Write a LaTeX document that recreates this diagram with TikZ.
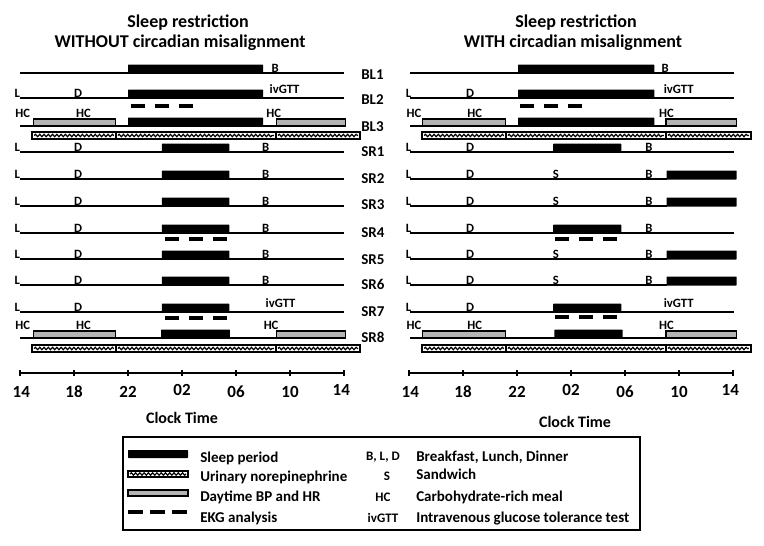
\documentclass[tikz,border=0pt]{standalone}
\usepackage{fontspec}
\setmainfont{Carlito}
\usetikzlibrary{decorations.pathmorphing}
\definecolor{barg}{RGB}{180,180,180}
\tikzset{
 tl/.style={line width=1pt},
 sleepf/.style={fill=black, rounded corners=0.5pt},
 grayf/.style={draw=black, fill=barg, line width=0.8pt},
 ekgl/.style={line width=3pt, dash pattern=on 10.5pt off 7.5pt},
 urbox/.style={draw=black, fill=white, line width=1.7pt},
 wave/.style={decorate, decoration={snake, segment length=3.2pt, amplitude=0.9pt}, line width=0.9pt},
 sm/.style={font=\fontsize{9.5}{9.5}\selectfont\bfseries, anchor=base, inner sep=0pt},
 rl/.style={font=\fontsize{11.25}{11.25}\selectfont\bfseries, anchor=base west, inner sep=0pt},
 ttl/.style={font=\fontsize{13.5}{13.5}\selectfont\bfseries, anchor=base, inner sep=0pt},
 axn/.style={font=\fontsize{12.75}{12.75}\selectfont\bfseries, anchor=base, inner sep=0pt},
 axt/.style={font=\fontsize{12}{12}\selectfont\bfseries, anchor=base, inner sep=0pt},
 lgt/.style={font=\fontsize{11.25}{11.25}\selectfont\bfseries, anchor=base west, inner sep=0pt},
 lga/.style={font=\fontsize{9.75}{9.75}\selectfont\bfseries, anchor=base, inner sep=0pt},
 axl/.style={line width=1pt},
}
\newcommand\tlrow[3]{\draw[tl] (#1,#3) -- (#2,#3);}
\newcommand\slp[3]{\fill[sleepf] (#1,{#3-8.5}) rectangle (#2,{#3+0.5});}
\newcommand\gry[3]{\draw[grayf] (#1,{#3-7}) rectangle (#2,#3);}
\newcommand\ekgd[3]{\draw[ekgl] (#1,#3) -- (#2,#3);}
\newcommand\urbar[5]{%
 \foreach \u/\v in {#2/#3,#3/#4,#4/#5}{%
  \draw[urbox] (\u,#1) rectangle (\v,{#1+7});
  \draw[wave] ({\u+0.15},{#1+3.5}) -- ({\v-0.15},{#1+3.5});
 }}
\newcommand\mk[4]{\node[sm] (#1) at (#2,{#3}) {#4};}
\newcommand\axis[1]{%
 \draw[axl] (0,373) -- (24,373);
 \foreach \h in {0,4,...,24}{\draw[axl] (\h,370) -- (\h,376);}
 \node[axn] (#1a) at (0.1,397) {14};
 \node[axn] (#1b) at (4,397) {18};
 \node[axn] (#1c) at (8,397) {22};
 \node[axn] (#1d) at (12,395) {02};
 \node[axn] (#1e) at (16,397) {06};
 \node[axn] (#1f) at (20,397) {10};
 \node[axn] (#1g) at (23.8,395) {14};
}
\begin{document}
\begin{tikzpicture}[x=0.75pt,y=-0.75pt]
\useasboundingbox[fill=white] (0,0) rectangle (764,546);
% titles
\node[ttl] (t1a) at (188,27) {Sleep restriction};
\node[ttl] (t1b) at (180,47) {WITHOUT circadian misalignment};
\node[ttl] (t2a) at (576,27) {Sleep restriction};
\node[ttl] (t2b) at (573,47) {WITH circadian misalignment};
% row labels
\foreach \lab/\yy in {BL1/79,BL2/104,BL3/131,SR1/156,SR2/183,SR3/209,SR4/237,SR5/264,SR6/289,SR7/316,SR8/342}{
 \node[rl] (row\lab) at (361,\yy) {\lab};
}
% ---------------- left panel
\begin{scope}[xshift=15pt, x=10.125pt]
\tlrow{0}{24}{73}\slp{8}{18}{73}\mk{lB1}{18.9}{72}{B}
\tlrow{0}{24}{98}\slp{8}{18}{98}\mk{lL2}{-0.2}{97}{L}\mk{lD2}{4.3}{97}{D}\mk{lI2}{19.6}{93.5}{ivGTT}\ekgd{8.2}{12.8}{106}
\tlrow{0}{24}{126}\gry{1}{7.1}{126}\gry{19}{24.1}{126}\slp{8}{18}{126}
\mk{lH3a}{0.2}{117}{HC}\mk{lH3b}{4.7}{117}{HC}\mk{lH3c}{18.8}{117}{HC}
\urbar{132}{0.9}{7.1}{18.96}{25.2}
\foreach \n/\y in {1/152,2/179,3/206,4/233,5/259,6/285}{
 \tlrow{0}{24}{\y}\slp{10.5}{15.5}{\y}
 \mk{lLs\n}{-0.2}{\y-1}{L}\mk{lDs\n}{4.3}{\y-1}{D}\mk{lBs\n}{18.2}{\y-1}{B}
}
\ekgd{10.75}{15.35}{239}
\tlrow{0}{24}{312}\slp{10.5}{15.5}{312}\mk{lLs7}{-0.2}{311}{L}\mk{lDs7}{4.3}{311}{D}\mk{lIs7}{19.3}{307}{ivGTT}\ekgd{10.75}{15.35}{318}
\tlrow{0}{24}{338}\gry{1}{7.1}{338}\gry{19}{24.1}{338}\slp{10.45}{15.55}{338}
\mk{lH8a}{0.2}{329}{HC}\mk{lH8b}{4.7}{329}{HC}\mk{lH8c}{18.6}{329}{HC}
\urbar{345}{0.9}{7.1}{18.96}{25.2}
\axis{lax}
\node[axt] (lct) at (12,423) {Clock Time};
\end{scope}
% ---------------- right panel
\begin{scope}[xshift=307.5pt, x=10.125pt]
\tlrow{0}{24}{73}\slp{8}{18.1}{73}\mk{rB1}{18.9}{72}{B}
\tlrow{0}{24}{98}\slp{8}{18.1}{98}\mk{rL2}{-0.1}{97}{L}\mk{rD2}{4.45}{97}{D}\mk{rI2}{19.9}{93.5}{ivGTT}\ekgd{8.15}{12.75}{106}
\tlrow{0}{24}{126}\gry{0.96}{7.1}{126}\gry{18.96}{24.15}{126}\slp{8}{18.1}{126}
\mk{rH3a}{0.3}{117}{HC}\mk{rH3b}{4.8}{117}{HC}\mk{rH3c}{19}{117}{HC}
\urbar{132}{0.9}{7.1}{18.96}{25.25}
% SR1 and SR4 (sleep at night)
\foreach \n/\y in {1/152,4/233}{
 \tlrow{0}{24}{\y}\slp{10.6}{15.65}{\y}
 \mk{rLs\n}{-0.1}{\y-1}{L}\mk{rDs\n}{4.45}{\y-1}{D}\mk{rBs\n}{17.7}{\y-1}{B}
}
\ekgd{10.75}{15.35}{239}
% SR2,3,5,6 (sleep during day)
\foreach \n/\y in {2/179,3/206,5/259,6/285}{
 \tlrow{0}{19}{\y}\slp{19}{24.2}{\y}
 \mk{rLs\n}{-0.1}{\y-1}{L}\mk{rDs\n}{4.45}{\y-1}{D}\mk{rSs\n}{10.8}{\y-1}{S}\mk{rBs\n}{17.7}{\y-1}{B}
}
\tlrow{0}{24}{312}\slp{10.6}{15.65}{312}\mk{rLs7}{-0.1}{311}{L}\mk{rDs7}{4.45}{311}{D}\mk{rIs7}{19.9}{307}{ivGTT}\ekgd{10.75}{15.35}{317}
\tlrow{0}{24}{338}\gry{0.96}{7.1}{338}\gry{18.96}{24.15}{338}\slp{10.7}{15.75}{338}
\mk{rH8a}{0.3}{329}{HC}\mk{rH8b}{4.8}{329}{HC}\mk{rH8c}{19}{329}{HC}
\urbar{345}{0.9}{7.1}{18.96}{25.25}
\end{scope}
\begin{scope}[xshift=306.75pt, x=10.125pt]
\axis{rax}
\node[axt] (rct) at (12.3,427) {Clock Time};
\end{scope}
% ---------------- legend
\draw[line width=1.8pt] (123,437) rectangle (640,530);
\fill[sleepf] (128,450) rectangle (188,458);
\draw[urbox] (128,471) rectangle (188,477);
\draw[wave] (130,474) -- (186,474);
\draw[grayf] (128,490) rectangle (188,496);
\draw[ekgl, dash pattern=on 11.25pt off 5.25pt] (128,512) -- (188,512);
\node[lgt] (lg1) at (200,462) {Sleep period};
\node[lgt] (lg2) at (200,481) {Urinary norepinephrine};
\node[lgt] (lg3) at (200,501.5) {Daytime BP and HR};
\node[lgt] (lg4) at (200,522.5) {EKG analysis};
\node[lga] (la1) at (383,460) {B, L, D};
\node[lga] (la2) at (387,480.5) {S};
\node[lga] (la3) at (383,501) {HC};
\node[lga] (la4) at (383,522) {ivGTT};
\node[lgt] (ld1) at (416,461) {Breakfast, Lunch, Dinner};
\node[lgt] (ld2) at (416,479.5) {Sandwich};
\node[lgt] (ld3) at (416,501.5) {Carbohydrate-rich meal};
\node[lgt] (ld4) at (416,522) {Intravenous glucose tolerance test};
\end{tikzpicture}
\end{document}
